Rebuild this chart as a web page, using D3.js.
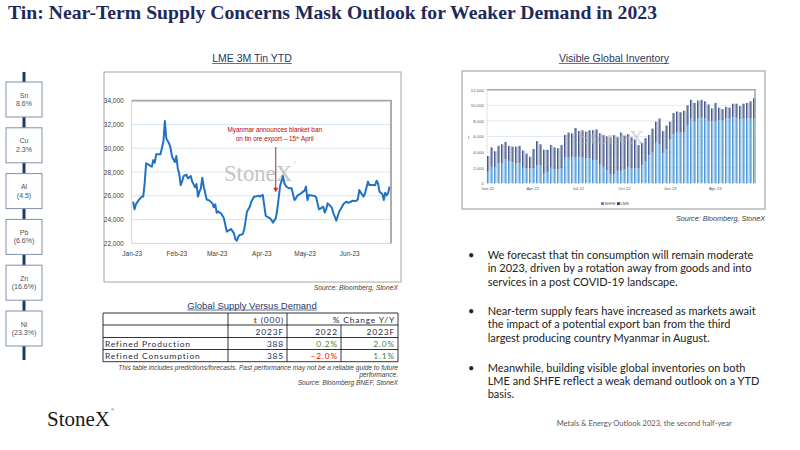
<!DOCTYPE html>
<html>
<head>
<meta charset="utf-8">
<script src="https://cdn.jsdelivr.net/npm/d3@7"></script>
<style>
body { margin: 0; background: #fff; }
text { font-family: "Liberation Sans", Arial, sans-serif; }
</style>
</head>
<body>
<svg id="page" width="800" height="450"></svg>
<script>
// ---- data ----
const metals = ['Sn', 'Cu', 'Al', 'Pb', 'Zn', 'Ni'];
const metalChanges = ['8.6%', '2.3%', '(4.5)', '(6.6%)', '(16.6%)', '(23.3%)'];

const tinDates = ['2023-01-02','2023-01-03','2023-01-04','2023-01-06','2023-01-08','2023-01-09','2023-01-10','2023-01-11','2023-01-13','2023-01-14',
  '2023-01-15','2023-01-16','2023-01-17','2023-01-18','2023-01-20','2023-01-21','2023-01-23','2023-01-24','2023-01-25','2023-01-27',
  '2023-01-28','2023-01-29','2023-01-31','2023-02-01','2023-02-02','2023-02-03','2023-02-04','2023-02-05','2023-02-06','2023-02-08',
  '2023-02-09','2023-02-10','2023-02-11','2023-02-12','2023-02-14','2023-02-15','2023-02-16','2023-02-17','2023-02-18','2023-02-19',
  '2023-02-20','2023-02-22','2023-02-23','2023-02-24','2023-02-26','2023-02-27','2023-02-28','2023-03-01','2023-03-02','2023-03-03',
  '2023-03-04','2023-03-06','2023-03-07','2023-03-08','2023-03-10','2023-03-11','2023-03-13','2023-03-14','2023-03-15','2023-03-16',
  '2023-03-17','2023-03-19','2023-03-20','2023-03-21','2023-03-22','2023-03-24','2023-03-25','2023-03-27','2023-03-28','2023-03-30',
  '2023-03-31','2023-04-01','2023-04-02','2023-04-04','2023-04-05','2023-04-07','2023-04-08','2023-04-09','2023-04-11','2023-04-12',
  '2023-04-13','2023-04-14','2023-04-16','2023-04-17','2023-04-18','2023-04-20','2023-04-21','2023-04-22','2023-04-24','2023-04-25',
  '2023-04-26','2023-04-28','2023-04-29','2023-05-01','2023-05-02','2023-05-03','2023-05-04','2023-05-05','2023-05-07','2023-05-08',
  '2023-05-09','2023-05-11','2023-05-12','2023-05-14','2023-05-15','2023-05-16','2023-05-17','2023-05-19','2023-05-20','2023-05-21',
  '2023-05-22','2023-05-23','2023-05-25','2023-05-26','2023-05-27','2023-05-28','2023-05-30','2023-05-31','2023-06-02','2023-06-03',
  '2023-06-04','2023-06-06','2023-06-07','2023-06-08','2023-06-09','2023-06-11','2023-06-12','2023-06-14','2023-06-15','2023-06-16',
  '2023-06-18','2023-06-19','2023-06-20','2023-06-21','2023-06-22','2023-06-24','2023-06-25','2023-06-26','2023-06-27','2023-06-28',
  '2023-06-29'];
const tinPrices = [25500,24860,25300,25650,25930,25930,27050,28730,28590,28500,
  28450,29000,28780,29500,29500,29500,30550,32290,30830,30400,
  29990,29290,28840,29340,28300,27830,26900,27190,27660,27770,
  27460,27550,27660,27190,26710,26990,25930,26350,26630,27520,
  26770,25700,25640,25590,25360,25030,25280,24580,24690,24580,
  24520,24100,23540,22980,23120,23200,22840,22330,22220,22560,
  22700,22760,23120,23820,24660,25080,25500,25930,25930,26010,
  25930,26010,26070,24330,24240,24100,23960,23740,24100,24800,
  25780,26820,27660,27050,26820,26630,26630,26630,25640,25780,
  26010,26150,26260,26430,26770,25640,26070,26040,26010,25990,
  25870,24860,24920,25080,24580,24860,25360,25140,24970,24520,
  24240,23900,24660,24860,25080,25310,25500,25420,25480,25590,
  25560,25590,25700,26490,26260,25930,26210,27190,26900,26900,
  26900,26880,27270,27050,26350,26150,25640,26260,26040,26210,
  26770];
const tinTicks = [22000, 24000, 26000, 28000, 30000, 32000, 34000];
const tinMonths = ['2023-01-01','2023-02-01','2023-03-01','2023-04-01','2023-05-01','2023-06-01'];
const banNote = { date: '2023-04-11', from: 30100, to: 26300 };

// weekly visible stocks, tonnes (first week 3 Jan 2022)
const invFirstWeek = '2022-01-03';
const shfeStocks = [1500,2100,2100,2600,2600,3100,2800,2700,2600,2600,
  2000,1900,1900,1900,2300,2300,1300,1400,2000,1800,
  1800,1900,3300,3300,3400,3300,3400,3300,3200,3200,
  3000,3000,2400,2100,1700,1200,1200,1600,1600,1800,
  2100,1900,1900,1900,2300,2800,3600,4000,5300,5000,
  3900,4400,5600,6300,6500,6500,6500,7400,8300,7900,
  8300,8400,8300,8000,8000,8000,8100,8100,8300,8300,
  8500,8400,8200,8300,8300,8300,8300];
const lmeStocks = [2000,2500,2000,2200,2400,2200,2000,2000,2100,2200,
  2200,1900,1500,2500,3100,2700,3000,2900,2900,2800,
  2700,3000,2900,3200,3000,3800,3300,3500,3400,3600,
  3800,3900,4000,4100,4300,4700,5000,4300,4900,4300,
  4200,4000,3700,3000,2900,3000,2600,3000,2600,3300,
  2800,3000,2300,2700,2700,2600,2800,2600,2400,2400,
  2300,2300,2200,2100,1600,2300,1600,1400,1500,1400,
  1700,1800,1700,1900,2000,2200,2600];
const invTicks = [0, 2000, 4000, 6000, 8000, 10000, 12000];
const invQuarters = ['2022-01-01','2022-04-01','2022-07-01','2022-10-01','2023-01-01','2023-04-01'];

const tableRows = ['Refined Production', 'Refined Consumption'];
const tableOutput = [388, 385];
const tableChange2022 = [0.2, -2.0];
const tableChange2023 = [2.0, 1.1];

const bullets = [
  ['We forecast that tin consumption will remain moderate',
   'in 2023, driven by a rotation away from goods and into',
   'services in a post COVID-19 landscape.'],
  ['Near-term supply fears have increased as markets await',
   'the impact of a potential export ban from the third',
   'largest producing country Myanmar in August.'],
  ['Meanwhile, building visible global inventories on both',
   'LME and SHFE reflect a weak demand outlook on a YTD',
   'basis.']
];

// ---- page ----
const svg = d3.select('#page');
const parse = d3.timeParse('%Y-%m-%d');
svg.append('rect').attr('width', 800).attr('height', 450).attr('fill', '#fff');

svg.append('text')
    .attr('x', 8).attr('y', 19)
    .attr('textLength', 649).attr('lengthAdjust', 'spacingAndGlyphs')
    .style('font-family', '"Liberation Serif", serif')
    .style('font-weight', 'bold').style('font-size', '19px')
    .style('fill', '#1f2a5c')
    .text('Tin: Near-Term Supply Concerns Mask Outlook for Weaker Demand in 2023');

function underlinedTitle(x, y, size, label) {
    const t = svg.append('text')
        .attr('x', x).attr('y', y)
        .attr('text-anchor', 'middle')
        .style('font-size', size + 'px')
        .style('fill', '#1f3864')
        .text(label);
    const w = t.node().getComputedTextLength();
    svg.append('line')
        .attr('x1', x - w / 2).attr('x2', x + w / 2)
        .attr('y1', y + 1.5).attr('y2', y + 1.5)
        .style('stroke', '#1f3864').style('stroke-width', 0.7);
}

// logo word, registered mark set just past its measured end
function logo(x, y, size, color) {
    const t = svg.append('text')
        .attr('x', x).attr('y', y)
        .style('font-family', '"Liberation Serif", serif').style('font-size', size + 'px')
        .style('fill', color)
        .text('StoneX');
    const w = t.node().getComputedTextLength();
    svg.append('text')
        .attr('x', x + w + 1.2).attr('y', y - size * 0.72)
        .style('font-size', (size * 0.17) + 'px').style('fill', color)
        .text('\u00ae');
}

// ---- left metal ladder ----
const ladderY = d3.scalePoint().domain(metals).range([99.5, 328.5]);
svg.append('line')
    .attr('x1', 24).attr('x2', 24).attr('y1', 72).attr('y2', 360)
    .style('stroke', '#1f3864').style('stroke-width', 3);
metals.forEach(function (m, i) {
    const cy = ladderY(m);
    svg.append('rect')
        .attr('x', 6).attr('y', cy - 17.5).attr('width', 36).attr('height', 35)
        .style('fill', '#fff').style('stroke', '#7f8fa9').style('stroke-width', 1);
    svg.append('text')
        .attr('x', 24).attr('y', cy - 2)
        .attr('text-anchor', 'middle')
        .style('font-size', '7px').style('fill', '#44546a')
        .text(m);
    svg.append('text')
        .attr('x', 24).attr('y', cy + 6.5)
        .attr('text-anchor', 'middle')
        .style('font-size', '7px').style('fill', '#44546a')
        .text(metalChanges[i]);
});

// ---- LME 3M tin chart ----
underlinedTitle(252, 62, 10.5, 'LME 3M Tin YTD');
svg.append('rect')
    .attr('x', 104).attr('y', 72).attr('width', 297).attr('height', 210)
    .style('fill', '#fff').style('stroke', '#a6a6a6').style('stroke-width', 1);

const tinX = d3.scaleTime().domain([parse('2023-01-01'), parse('2023-06-30')]).range([131.7, 391]);
const tinY = d3.scaleLinear().domain([22000, 34000]).range([243.3, 100.7]);

svg.append('g').selectAll('line')
    .data(tinTicks.slice(1, -1))
    .join('line')
    .attr('x1', tinX.range()[0]).attr('x2', tinX.range()[1])
    .attr('y1', d => tinY(d)).attr('y2', d => tinY(d))
    .style('stroke', '#d6e6f5').style('stroke-width', 1);
svg.append('rect')
    .attr('x', tinX.range()[0]).attr('y', tinY(34000))
    .attr('width', tinX.range()[1] - tinX.range()[0]).attr('height', tinY(22000) - tinY(34000))
    .style('fill', 'none').style('stroke', '#c8c8c8').style('stroke-width', 0.8);
svg.append('path')
    .attr('d', `M${tinX.range()[0]},${tinY(34000)}H${tinX.range()[1]}V${tinY(22000)}`)
    .style('fill', 'none').style('stroke', '#a6a6a6').style('stroke-width', 1.8);

const tinYAxis = svg.append('g')
    .attr('transform', `translate(${tinX.range()[0] - 5},0)`)
    .call(d3.axisLeft(tinY).tickValues(tinTicks).tickSize(0).tickFormat(d3.format(',')));
tinYAxis.select('.domain').remove();
tinYAxis.selectAll('text').style('font-size', '6.5px').style('fill', '#404040')
    .style('font-family', '"Liberation Sans", Arial, sans-serif');

const tinXAxis = svg.append('g')
    .attr('transform', `translate(0,${tinY(22000) + 5})`)
    .call(d3.axisBottom(tinX).tickValues(tinMonths.map(parse)).tickSize(0).tickFormat(d3.timeFormat('%b-%y')));
tinXAxis.select('.domain').remove();
tinXAxis.selectAll('text').style('font-size', '6.5px').style('fill', '#404040')
    .style('font-family', '"Liberation Sans", Arial, sans-serif');

// watermark
logo(224, 180.5, 22.7, '#c4c4c4');

const tinSeries = tinDates.map((d, i) => ({ date: parse(d), price: tinPrices[i] }));
svg.append('path')
    .datum(tinSeries)
    .attr('d', d3.line().x(d => tinX(d.date)).y(d => tinY(d.price)))
    .style('fill', 'none').style('stroke', '#1f72c4').style('stroke-width', 2)
    .style('stroke-linejoin', 'round');

// annotation
const banX = tinX(parse(banNote.date));
const note = svg.append('g').style('font-size', '6.4px').style('fill', '#c00000')
    .style('font-family', 'Lato, sans-serif');
note.append('text').attr('x', banX - 1).attr('y', 132.3).attr('text-anchor', 'middle')
    .text('Myanmar announces blanket ban');
const l2 = note.append('text').attr('x', banX - 1).attr('y', 141).attr('text-anchor', 'middle');
l2.append('tspan').text('on tin ore export \u2013 15');
l2.append('tspan').attr('dy', -2).style('font-size', '4px').text('th');
l2.append('tspan').attr('dy', 2).text(' April');
svg.append('line')
    .attr('x1', banX).attr('x2', banX)
    .attr('y1', tinY(banNote.from)).attr('y2', tinY(banNote.to) - 4)
    .style('stroke', '#8b1a1a').style('stroke-width', 0.9);
svg.append('path')
    .attr('d', `M${banX - 2.5},${tinY(banNote.to) - 4.5}L${banX + 2.5},${tinY(banNote.to) - 4.5}L${banX},${tinY(banNote.to)}Z`)
    .style('fill', '#e02020');

svg.append('text')
    .attr('x', 398).attr('y', 289.5).attr('text-anchor', 'end')
    .style('font-size', '6.8px').style('font-style', 'italic').style('fill', '#404040')
    .text('Source:  Bloomberg,  StoneX');

// ---- visible global inventory ----
underlinedTitle(614, 62, 10.5, 'Visible Global Inventory');
svg.append('rect')
    .attr('x', 462).attr('y', 71).attr('width', 303).attr('height', 138)
    .style('fill', '#fff').style('stroke', '#a6a6a6').style('stroke-width', 1.2);

const invX = d3.scaleTime().domain([parse('2022-01-01'), parse('2023-06-26')]).range([487.3, 757.8]);
const invY = d3.scaleLinear().domain([0, 12000]).range([183.3, 89.7]);
const plotRight = 755;

svg.append('g').selectAll('line')
    .data(invTicks.slice(1, -1))
    .join('line')
    .attr('x1', 487).attr('x2', plotRight)
    .attr('y1', d => invY(d)).attr('y2', d => invY(d))
    .style('stroke', '#d6e6f5').style('stroke-width', 0.8);
svg.append('path')
    .attr('d', `M487,${invY(12000)}H${plotRight}V${invY(0)}`)
    .style('fill', 'none').style('stroke', '#a6a6a6').style('stroke-width', 1.6);
svg.append('line')
    .attr('x1', 487).attr('x2', 487).attr('y1', invY(12000)).attr('y2', invY(0))
    .style('stroke', '#d0d0d0').style('stroke-width', 0.6);

const weeks = d3.timeMonday.range(parse(invFirstWeek), d3.timeMonday.offset(parse(invFirstWeek), shfeStocks.length));
const invTable = weeks.map((w, i) => ({ week: w, SHFE: shfeStocks[i], LME: lmeStocks[i] }));
const stacked = d3.stack().keys(['SHFE', 'LME'])(invTable);
const barLight = { SHFE: '#95c7ec', LME: '#96a4c2' };
const barDark = { SHFE: '#3a82c8', LME: '#2b3a6c' };

stacked.forEach(function (layer) {
    const g = svg.append('g');
    g.selectAll('rect.light')
        .data(layer)
        .join('rect')
        .attr('class', 'light')
        .attr('x', d => invX(d.data.week) - 1.1)
        .attr('y', d => invY(d[1]))
        .attr('width', 2.3)
        .attr('height', d => invY(d[0]) - invY(d[1]))
        .style('fill', barLight[layer.key]);
    g.selectAll('rect.dark')
        .data(layer)
        .join('rect')
        .attr('class', 'dark')
        .attr('x', d => invX(d.data.week) - 1.1)
        .attr('y', d => invY(d[1]))
        .attr('width', 0.75)
        .attr('height', d => invY(d[0]) - invY(d[1]))
        .style('fill', barDark[layer.key]);
});

svg.append('text')
    .attr('x', 611).attr('y', 143.5).attr('text-anchor', 'middle')
    .attr('textLength', 67).attr('lengthAdjust', 'spacingAndGlyphs')
    .style('font-family', '"Liberation Serif", serif').style('font-size', '18px')
    .style('fill', '#b8b8b8').style('opacity', 0.55)
    .text('StoneX');

const invYAxis = svg.append('g')
    .attr('transform', 'translate(484,0)')
    .call(d3.axisLeft(invY).tickValues(invTicks).tickSize(0).tickPadding(0).tickFormat(d3.format(',')));
invYAxis.select('.domain').remove();
invYAxis.selectAll('text').style('font-size', '4.3px').style('fill', '#595959')
    .style('font-family', '"Liberation Sans", Arial, sans-serif');
svg.append('text').attr('x', 468).attr('y', 138.5).style('font-size', '4.5px').style('fill', '#595959').text('t');

const invXAxis = svg.append('g')
    .attr('transform', `translate(0,${invY(0) + 2})`)
    .call(d3.axisBottom(invX).tickValues(invQuarters.map(parse)).tickSize(0).tickPadding(1.5).tickFormat(d3.timeFormat('%b %y')));
invXAxis.select('.domain').remove();
invXAxis.selectAll('text').style('font-size', '4.3px').style('fill', '#595959')
    .style('font-family', '"Liberation Sans", Arial, sans-serif');

const legend = svg.append('g').style('font-size', '4.3px').style('fill', '#595959');
[['SHFE', 601], ['LME', 617]].forEach(function (k) {
    legend.append('rect').attr('x', k[1]).attr('y', 202.2).attr('width', 2.8).attr('height', 2.8)
        .style('fill', barDark[k[0]]);
    legend.append('text').attr('x', k[1] + 3.2).attr('y', 205.2).text(k[0]);
});

svg.append('text')
    .attr('x', 765).attr('y', 220.5).attr('text-anchor', 'end')
    .style('font-size', '7.2px').style('font-style', 'italic').style('fill', '#404040')
    .text('Source:  Bloomberg,  StoneX');

// ---- supply vs demand table ----
underlinedTitle(252, 308.5, 9.5, 'Global Supply Versus Demand');
const rowY = [313, 325, 337.5, 349.5, 361.7];
const colX = [103, 228, 287, 341, 398];
const tbl = svg.append('g').style('stroke', '#000').style('stroke-width', 0.8);
rowY.forEach(y => tbl.append('line').attr('x1', colX[0]).attr('x2', colX[4]).attr('y1', y).attr('y2', y));
[colX[0], colX[1], colX[2], colX[4]].forEach(x => tbl.append('line').attr('x1', x).attr('x2', x).attr('y1', rowY[0]).attr('y2', rowY[4]));
tbl.append('line').attr('x1', colX[3]).attr('x2', colX[3]).attr('y1', rowY[1]).attr('y2', rowY[4]);

function cell(x, y, txt, color, anchor) {
    svg.append('text')
        .attr('x', x).attr('y', y)
        .attr('text-anchor', anchor || 'end')
        .style('font-family', 'Lato, sans-serif')
        .style('font-size', '8.4px').style('letter-spacing', '0.85px')
        .style('fill', color || '#1f2a44')
        .text(txt);
}
const pct = d3.format('.1f');
cell(colX[2] - 3, rowY[0] + 9.5, 't (000)');
cell(colX[4] - 3, rowY[0] + 9.5, '% Change Y/Y');
cell(colX[2] - 3, rowY[1] + 9.8, '2023F');
cell(colX[3] - 3, rowY[1] + 9.8, '2022');
cell(colX[4] - 3, rowY[1] + 9.8, '2023F');
tableRows.forEach(function (r, i) {
    const y = rowY[i + 2] + 9.5;
    cell(colX[0] + 2, y, r, '#1f2a44', 'start');
    cell(colX[2] - 3, y, tableOutput[i]);
    cell(colX[3] - 3, y, pct(tableChange2022[i]) + '%', tableChange2022[i] < 0 ? '#ff0000' : '#548235');
    cell(colX[4] - 3, y, pct(tableChange2023[i]) + '%', tableChange2023[i] < 0 ? '#ff0000' : '#548235');
});
const foot = svg.append('g').style('font-size', '6.6px').style('font-style', 'italic').style('fill', '#404040')
    .attr('text-anchor', 'end');
foot.append('text').attr('x', 398).attr('y', 369.5)
    .text('This table includes predictions/forecasts. Past performance  may not be a reliable guide to future');
foot.append('text').attr('x', 398).attr('y', 377).text('performance.');
foot.append('text').attr('x', 398).attr('y', 384.5).text('Source:  Bloomberg BNEF, StoneX');

// ---- commentary ----
const paraTop = [259, 315, 371.7];
bullets.forEach(function (lines, p) {
    svg.append('text')
        .attr('x', 468).attr('y', paraTop[p])
        .style('font-family', 'Lato, sans-serif').style('font-size', '11px').style('fill', '#222')
        .text('\u2022');
    lines.forEach(function (ln, j) {
        svg.append('text')
            .attr('x', 487.7).attr('y', paraTop[p] + j * 13.35)
            .style('font-family', 'Lato, sans-serif').style('font-size', '11px').style('fill', '#222')
            .text(ln);
    });
});

// ---- footer ----
logo(47, 426, 21, '#1a1a1a');
svg.append('text')
    .attr('x', 556.7).attr('y', 425.5)
    .style('font-family', 'Lato, sans-serif').style('font-size', '7.6px').style('fill', '#595959')
    .text('Metals & Energy Outlook 2023, the second half-year');
</script>
</body>
</html>
